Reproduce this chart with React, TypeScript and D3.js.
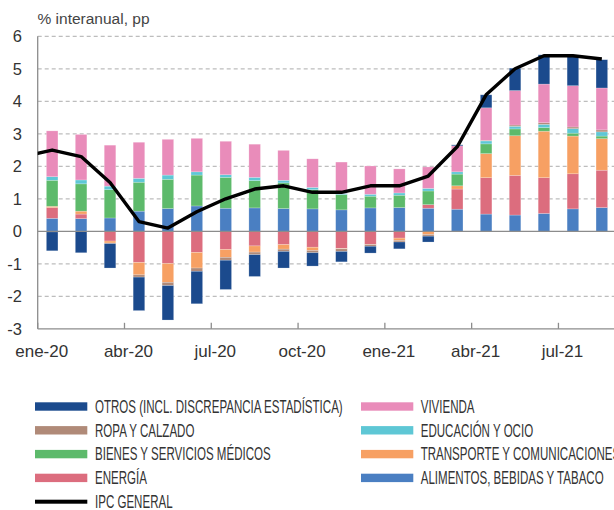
import { useEffect, useRef } from "react"
import * as d3 from "d3"

// meses (ene-20 .. ago-21)
const months = [
  "ene-20", "feb-20", "mar-20", "abr-20", "may-20", "jun-20", "jul-20", "ago-20", "sep-20", "oct-20",
  "nov-20", "dic-20", "ene-21", "feb-21", "mar-21", "abr-21", "may-21", "jun-21", "jul-21", "ago-21",
]
const tickLabels = ["ene-20", "abr-20", "jul-20", "oct-20", "ene-21", "abr-21", "jul-21"]

// contribuciones, pp
const alimentos = [0.4, 0.39, 0.41, 0.62, 0.7, 0.78, 0.71, 0.72, 0.7, 0.69, 0.66, 0.72, 0.73, 0.71, 0.68, 0.53, 0.5, 0.55, 0.69, 0.73]
const energia = [0.33, 0.14, -0.3, -0.96, -0.99, -0.65, -0.56, -0.45, -0.41, -0.49, -0.53, -0.4, -0.21, 0.11, 0.62, 1.12, 1.22, 1.1, 1.08, 1.15]
const transporte = [0.04, 0.09, -0.06, -0.38, -0.58, -0.48, -0.24, -0.19, -0.14, -0.1, -0.01, -0.01, -0.07, -0.1, 0.1, 0.74, 1.22, 1.43, 1.16, 0.97]
const medicos = [0.8, 0.84, 0.87, 0.89, 0.9, 0.95, 0.95, 0.84, 0.79, 0.59, 0.47, 0.36, 0.38, 0.42, 0.36, 0.3, 0.21, 0.11, 0.09, 0.08]
const educacion = [0.11, 0.12, 0.11, 0.12, 0.13, 0.1, 0.08, 0.1, 0.08, 0.07, 0.04, 0.06, 0.07, 0.08, 0.07, 0.09, 0.08, 0.1, 0.14, 0.13]
const ropa = [-0.02, -0.01, -0.02, -0.07, -0.1, -0.1, -0.09, -0.08, -0.07, -0.07, -0.08, -0.05, -0.05, -0.05, -0.02, 0.02, 0.04, 0.05, 0.05, 0.06]
const vivienda = [1.41, 1.4, 1.26, 1.11, 1.1, 1.03, 1.03, 1.02, 0.92, 0.88, 0.96, 0.87, 0.74, 0.66, 0.8, 1.0, 1.06, 1.19, 1.27, 1.29]
const otros = [-0.58, -0.65, -0.75, -1.03, -1.06, -1.0, -0.9, -0.67, -0.51, -0.41, -0.32, -0.21, -0.21, -0.18, 0.03, 0.4, 0.69, 0.9, 0.93, 0.87]

// IPC general, incluye dic-19 al principio
const ipc = [2.3, 2.5, 2.3, 1.5, 0.3, 0.1, 0.6, 1.0, 1.3, 1.4, 1.2, 1.2, 1.4, 1.4, 1.7, 2.6, 4.2, 5.0, 5.4, 5.4, 5.3]

const yTicks = [6, 5, 4, 3, 2, 1, 0, -1, -2, -3]

const series = [
  { key: "alimentos", values: alimentos, label: "ALIMENTOS, BEBIDAS Y TABACO", color: "#4a7fc2" },
  { key: "energia", values: energia, label: "ENERGÍA", color: "#dc6d7e" },
  { key: "transporte", values: transporte, label: "TRANSPORTE Y COMUNICACIONES", color: "#f7a063" },
  { key: "medicos", values: medicos, label: "BIENES Y SERVICIOS MÉDICOS", color: "#5dba6b" },
  { key: "educacion", values: educacion, label: "EDUCACIÓN Y OCIO", color: "#5ec7d5" },
  { key: "ropa", values: ropa, label: "ROPA Y CALZADO", color: "#b08a78" },
  { key: "vivienda", values: vivienda, label: "VIVIENDA", color: "#e98cba" },
  { key: "otros", values: otros, label: "OTROS (INCL. DISCREPANCIA ESTADÍSTICA)", color: "#1b4a8d" },
]

const legendLeft = ["otros", "ropa", "medicos", "energia", "ipc"]
const legendRight = ["vivienda", "educacion", "transporte", "alimentos"]

export default function App() {
  const svgRef = useRef(null)

  useEffect(() => {
    if (!svgRef.current) return
    const svg = d3.select(svgRef.current)
    svg.selectAll("*").remove()

    const width = 614
    const height = 510
    const left = 37.7
    const right = 616.3

    const x = d3.scaleBand().domain(months).range([left, right]).paddingInner(0.6).paddingOuter(0.3)
    const y = d3.scaleLinear().domain([-3, 6]).range([328.8, 36.3])
    // borde izquierdo de cada mes (posición de las marcas)
    const edge = (m: string) => x(m) - (x.step() - x.bandwidth()) / 2

    const rows = months.map((m, i) => {
      const r: any = { month: m }
      series.forEach((s) => (r[s.key] = s.values[i]))
      return r
    })
    const stacked = d3.stack().keys(series.map((s) => s.key)).offset(d3.stackOffsetDiverging)(rows)

    // rejilla
    svg.append("g")
      .selectAll("line")
      .data(yTicks.filter((t) => t !== 0 && t !== -3))
      .enter()
      .append("line")
      .attr("x1", left)
      .attr("x2", width)
      .attr("y1", (d) => y(d))
      .attr("y2", (d) => y(d))
      .attr("stroke", "#bdbdbd")
      .attr("stroke-width", 1.2)
      .attr("stroke-dasharray", "4,3")

    // etiquetas eje Y
    svg.append("g")
      .selectAll("text")
      .data(yTicks)
      .enter()
      .append("text")
      .attr("x", 22)
      .attr("y", (d) => y(d))
      .attr("dy", "0.36em")
      .attr("text-anchor", "end")
      .attr("font-family", "Liberation Sans, Arial, sans-serif")
      .attr("font-size", "16.5px")
      .attr("fill", "#333")
      .text((d) => d)

    // barras
    const bars = svg.append("g")
    stacked.forEach((layer, li) => {
      bars.append("g")
        .attr("fill", series[li].color)
        .selectAll("rect")
        .data(layer)
        .enter()
        .append("rect")
        .attr("x", (d: any) => x(d.data.month))
        .attr("y", (d) => y(Math.max(d[0], d[1])))
        .attr("width", x.bandwidth())
        .attr("height", (d) => Math.abs(y(d[0]) - y(d[1])))
        .attr("stroke", "#ffffff")
        .attr("stroke-opacity", 0.35)
        .attr("stroke-width", 0.6)
    })

    // ejes
    svg.append("line")
      .attr("x1", left).attr("x2", width)
      .attr("y1", y(0)).attr("y2", y(0))
      .attr("stroke", "#8c8c8c").attr("stroke-width", 1.3)
    svg.append("line")
      .attr("x1", left).attr("x2", width)
      .attr("y1", y(-3)).attr("y2", y(-3))
      .attr("stroke", "#8c8c8c").attr("stroke-width", 1.3)
    svg.append("line")
      .attr("x1", left).attr("x2", left)
      .attr("y1", y(6)).attr("y2", y(-3))
      .attr("stroke", "#8c8c8c").attr("stroke-width", 1.3)
    svg.append("g")
      .selectAll("line")
      .data(months.filter((_, i) => i % 3 === 0))
      .enter()
      .append("line")
      .attr("x1", (d) => edge(d))
      .attr("x2", (d) => edge(d))
      .attr("y1", y(-3))
      .attr("y2", y(-3) - 6)
      .attr("stroke", "#8c8c8c")
      .attr("stroke-width", 1.3)

    // etiquetas eje X
    svg.append("g")
      .selectAll("text")
      .data(tickLabels)
      .enter()
      .append("text")
      .attr("x", (d) => edge(d) + 4)
      .attr("y", 357.3)
      .attr("text-anchor", "middle")
      .attr("font-family", "Liberation Sans, Arial, sans-serif")
      .attr("font-size", "17px")
      .attr("fill", "#333")
      .text((d) => d)

    // línea IPC (con dic-19 recortado en el eje)
    svg.append("clipPath").attr("id", "plotclip")
      .append("rect").attr("x", left).attr("y", 0).attr("width", width - left).attr("height", height)
    const cx = (i: number) => x(months[0]) + x.bandwidth() / 2 + (i - 1) * x.step()
    svg.append("path")
      .datum(ipc)
      .attr("clip-path", "url(#plotclip)")
      .attr("fill", "none")
      .attr("stroke", "#000")
      .attr("stroke-width", 3.4)
      .attr("stroke-linejoin", "round")
      .attr("d", d3.line<number>().x((_, i) => cx(i)).y((d) => y(d)))

    // título
    svg.append("text")
      .attr("x", 37.5)
      .attr("y", 24)
      .attr("font-family", "Liberation Sans, Arial, sans-serif")
      .attr("font-size", "15.5px")
      .attr("fill", "#444")
      .text("% interanual, pp")

    // leyenda (tipografía estrecha)
    const lookup: any = {}
    series.forEach((s) => (lookup[s.key] = s))
    lookup.ipc = { label: "IPC GENERAL", color: "#000" }
    const drawCol = (keys: string[], sx: number, tx: number) => {
      keys.forEach((k, i) => {
        const cy = 406.5 + i * 23.8
        const s = lookup[k]
        const h = k === "ipc" ? 4 : 8.4
        svg.append("rect")
          .attr("x", sx).attr("y", cy - h / 2)
          .attr("width", 52.3).attr("height", h)
          .attr("fill", s.color)
        svg.append("text")
          .attr("transform", `translate(${tx},${cy}) scale(0.66,1)`)
          .attr("dy", "0.36em")
          .attr("font-family", "Liberation Sans, Arial, sans-serif")
          .attr("font-size", "17.5px")
          .attr("fill", "#333")
          .text(s.label)
      })
    }
    drawCol(legendLeft, 35, 95)
    drawCol(legendRight, 361, 420.7)

    svg.attr("width", width).attr("height", height)
  }, [])

  return (
    <svg
      ref={svgRef}
      style={{ position: "absolute", left: 0, top: 0, display: "block", background: "#fff" }}
    ></svg>
  )
}
